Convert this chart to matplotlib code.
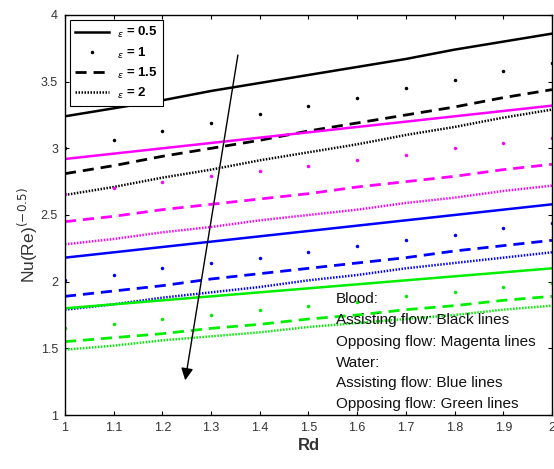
import numpy as np
import matplotlib
matplotlib.use("Agg")
import matplotlib.pyplot as plt

plt.rcParams['font.family'] = ['Liberation Sans', 'DejaVu Sans']

# Rd values (MATLAB style 1:0.1:2)
rd = [1.0, 1.1, 1.2, 1.3, 1.4, 1.5, 1.6, 1.7, 1.8, 1.9, 2.0]

# blood, assisting flow (black)
blood_assist = {
    0.5: [3.24, 3.30, 3.36, 3.43, 3.49, 3.55, 3.61, 3.67, 3.74, 3.80, 3.86],
    1:   [3.00, 3.06, 3.13, 3.19, 3.26, 3.32, 3.38, 3.45, 3.51, 3.58, 3.64],
    1.5: [2.81, 2.87, 2.94, 3.00, 3.06, 3.13, 3.19, 3.25, 3.31, 3.38, 3.44],
    2:   [2.65, 2.71, 2.78, 2.84, 2.91, 2.97, 3.03, 3.10, 3.16, 3.23, 3.29],
}
# blood, opposing flow (magenta)
blood_oppose = {
    0.5: [2.92, 2.96, 3.00, 3.04, 3.08, 3.12, 3.16, 3.20, 3.24, 3.28, 3.32],
    1:   [2.66, 2.70, 2.75, 2.79, 2.83, 2.87, 2.91, 2.95, 3.00, 3.04, 3.08],
    1.5: [2.45, 2.49, 2.54, 2.58, 2.62, 2.66, 2.71, 2.75, 2.79, 2.84, 2.88],
    2:   [2.28, 2.32, 2.37, 2.41, 2.46, 2.50, 2.54, 2.59, 2.63, 2.68, 2.72],
}
# water, assisting flow (blue)
water_assist = {
    0.5: [2.18, 2.22, 2.26, 2.30, 2.34, 2.38, 2.42, 2.46, 2.50, 2.54, 2.58],
    1:   [2.01, 2.05, 2.10, 2.14, 2.18, 2.22, 2.27, 2.31, 2.35, 2.40, 2.44],
    1.5: [1.89, 1.93, 1.97, 2.02, 2.06, 2.10, 2.14, 2.18, 2.23, 2.27, 2.31],
    2:   [1.79, 1.83, 1.88, 1.92, 1.96, 2.01, 2.05, 2.10, 2.14, 2.18, 2.22],
}
# water, opposing flow (green)
water_oppose = {
    0.5: [1.80, 1.83, 1.86, 1.89, 1.92, 1.95, 1.98, 2.01, 2.04, 2.07, 2.10],
    1:   [1.65, 1.68, 1.72, 1.75, 1.79, 1.82, 1.85, 1.89, 1.92, 1.96, 1.99],
    1.5: [1.55, 1.58, 1.61, 1.65, 1.68, 1.72, 1.75, 1.79, 1.82, 1.86, 1.89],
    2:   [1.49, 1.52, 1.56, 1.59, 1.62, 1.66, 1.69, 1.72, 1.75, 1.79, 1.82],
}

eps_labels = ["0.5", "1", "1.5", "2"]
notes = ["Blood:", "Assisting flow: Black lines", "Opposing flow: Magenta lines",
         "Water:", "Assisting flow: Blue lines", "Opposing flow: Green lines"]

fig = plt.figure(figsize=(5.54, 4.69), dpi=100)
ax = fig.add_axes([0.1173, 0.1151, 0.879, 0.853])

styles = {0.5: dict(ls="-", lw=1.8),
          1: dict(ls="none", marker=".", ms=3),
          1.5: dict(ls=(0, (4, 2.5)), lw=2),
          2: dict(ls=(0, (0.6, 0.6)), lw=1.8)}

handles = []
for data, col in [(blood_assist, "black"), (blood_oppose, "#ff00ff"),
                  (water_assist, "#0000ff"), (water_oppose, "#00ee00")]:
    for e in [0.5, 1, 1.5, 2]:
        h, = ax.plot(rd, data[e], color=col, **styles[e])
        if col == "black":
            handles.append(h)

leg = ax.legend(handles, [r"$_\epsilon$ = " + s for s in eps_labels],
                loc="upper left", bbox_to_anchor=(0.002, 0.997),
                prop=dict(size=9.5, weight="bold"), fancybox=False,
                edgecolor="black", framealpha=1, handlelength=2.6,
                handletextpad=0.6, borderpad=0.4, labelspacing=0.38,
                borderaxespad=0.3)
leg.get_frame().set_linewidth(0.8)

ypos = [1.87, 1.71, 1.55, 1.39, 1.24, 1.08]
for t, y in zip(notes, ypos):
    ax.text(1.556, y, t, fontsize=11, color="#111111", va="center")

ax.annotate("", xy=(1.246, 1.24), xytext=(1.356, 3.72),
            arrowprops=dict(arrowstyle="-|>", color="black", lw=1,
                            mutation_scale=18))

ax.set_xlim(1, 2)
ax.set_ylim(1, 4)
ax.set_xticks(np.arange(1, 2.01, 0.1))
ax.set_xticklabels(["1", "1.1", "1.2", "1.3", "1.4", "1.5", "1.6", "1.7", "1.8", "1.9", "2"])
ax.set_yticks(np.arange(1, 4.01, 0.5))
ax.set_yticklabels(["1", "1.5", "2", "2.5", "3", "3.5", "4"])
ax.tick_params(direction="in", top=True, right=True, labelsize=9,
               labelcolor="#333333", length=3, pad=5)
for s in ax.spines.values():
    s.set_linewidth(1)
ax.set_xlabel("Rd", fontsize=12, fontweight="bold", color="#333333", labelpad=3)
ax.set_ylabel(r"Nu(Re)$^{(-0.5)}$", fontsize=12.5, color="#333333")
ax.yaxis.set_label_coords(-0.052, 0.45)

fig.savefig("out.png", dpi=100)
